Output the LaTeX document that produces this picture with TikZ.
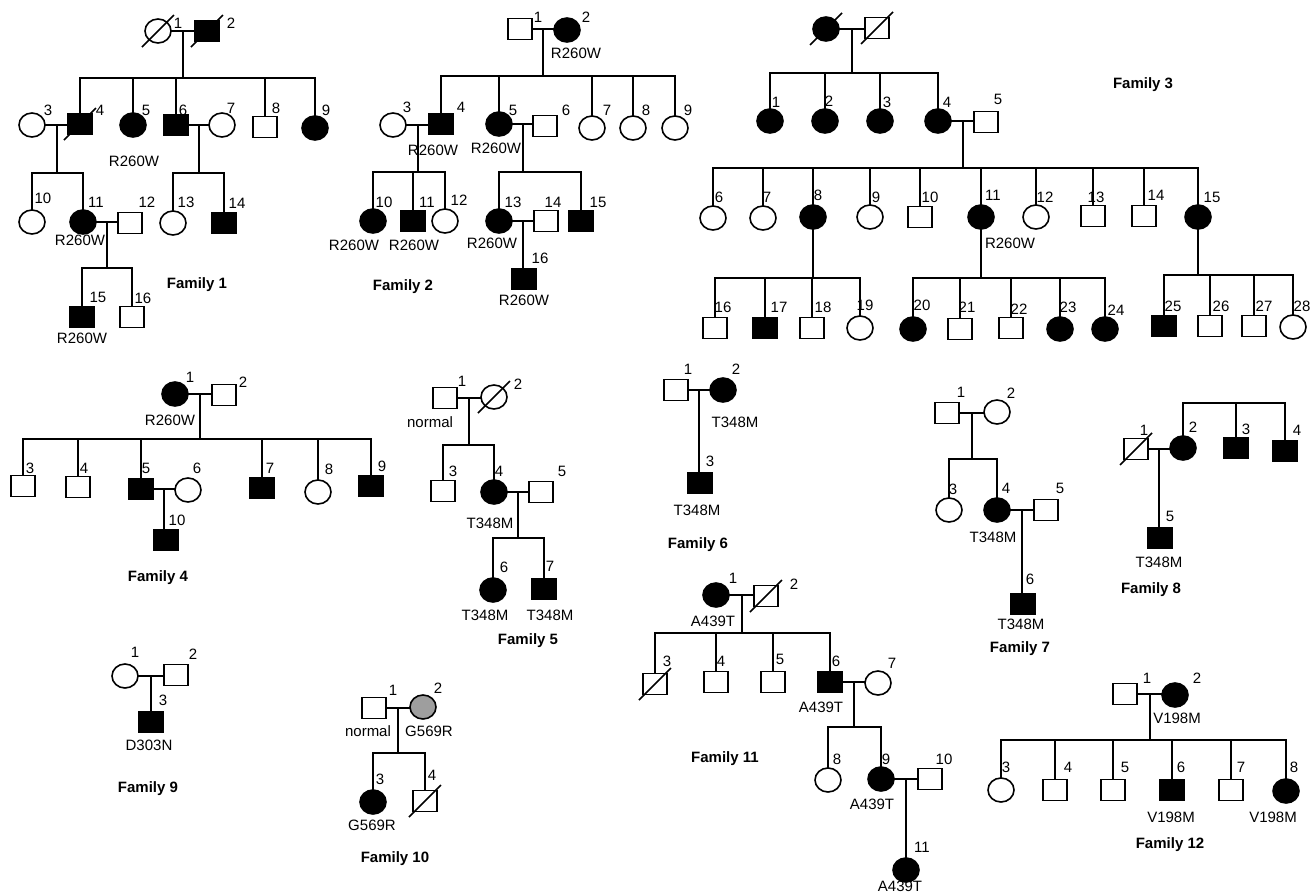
\documentclass[tikz,border=0pt]{standalone}
\usepackage{fontspec}
\setmainfont{Liberation Sans}
\usetikzlibrary{calc,shapes.geometric}
\tikzset{
 sq/.style={draw, line width=1.6pt, rectangle, minimum width=24pt, minimum height=21pt, inner sep=0pt, outer sep=0pt, fill=white},
 sqf/.style={sq, fill=black},
 ci/.style={draw, line width=1.6pt, ellipse, minimum width=26pt, minimum height=24pt, inner sep=0pt, outer sep=0pt, fill=white},
 cif/.style={ci, fill=black},
 cig/.style={ci, fill=black!38},
 txt/.style={font=\fontsize{15}{17}\selectfont, inner sep=0pt, text height=10.7pt, text depth=0pt},
 fam/.style={txt, font=\fontsize{15}{17}\selectfont\bfseries},
}
\newcommand\pers[5]{\node[#1] (#2) at (#3) {}; \node[txt] (#2n) at (#5) {#4};}
\newcommand\mar[3]{%
  \draw (#1.east) -- (#1.east -| #2.west);
  \path let \p1=($(#1.east)!.5!(#1.east -| #2.west)$), \n1={round(\x1)} in coordinate (#3) at (\n1,\y1);}
\newcommand\kids[3]{%
  \draw (#1) -- (#1 |- 0,#2);
  \foreach \c in {#3}{\draw (\c.north) -- (\c.north |- 0,#2) -- (#1 |- 0,#2);}}
\newcommand\onekid[2]{\draw (#1) -- (#1 |- #2.north);}
\newcommand\dec[1]{\draw ([shift={(-16,16)}]#1.center) -- ([shift={(16,-16)}]#1.center);}
\begin{document}
\begin{tikzpicture}[x=1pt,y=-1pt,line width=1.7pt]
\useasboundingbox (0,0) rectangle (1311,895);
% ---------------- Family 1
\pers{ci}{f1p1}{158,31}{1}{178,23}
\pers{sqf}{f1p2}{207,31}{2}{231,23}
\pers{ci}{f1p3}{32,125}{3}{48,110}
\pers{sqf}{f1p4}{80,124}{4}{100,110}
\pers{cif}{f1p5}{133,125}{5}{146,110}
\pers{sqf}{f1p6}{176,125}{6}{183,110}
\pers{ci}{f1p7}{222,125}{7}{231,108}
\pers{sq}{f1p8}{265,127}{8}{276,108}
\pers{cif}{f1p9}{315,128}{9}{326,110}
\pers{ci}{f1p10}{32,222}{10}{43,198}
\pers{cif}{f1p11}{83,222}{11}{96,202}
\pers{sq}{f1p12}{130,223}{12}{147,202}
\pers{ci}{f1p13}{173,223}{13}{186,202}
\pers{sqf}{f1p14}{224,223}{14}{237,203}
\pers{sqf}{f1p15}{82,317}{15}{98,297}
\pers{sq}{f1p16}{132,317}{16}{143,298}
\dec{f1p1}\dec{f1p2}\dec{f1p4}
\mar{f1p1}{f1p2}{f1m}
\kids{f1m}{78}{f1p4,f1p5,f1p6,f1p8,f1p9}
\mar{f1p3}{f1p4}{f1ma}
\kids{f1ma}{173}{f1p10,f1p11}
\mar{f1p6}{f1p7}{f1mb}
\kids{f1mb}{173}{f1p13,f1p14}
\mar{f1p11}{f1p12}{f1mc}
\kids{f1mc}{268}{f1p15,f1p16}
\node[txt] (f1t5) at (134,161) {R260W};
\node[txt] (f1t11) at (80,240) {R260W};
\node[txt] (f1t15) at (82,338) {R260W};
\node[fam] (fam1) at (197,283) {Family 1};
% ---------------- Family 2
\pers{sq}{f2p1}{520,29}{1}{538,17}
\pers{cif}{f2p2}{567,30}{2}{586,17}
\pers{ci}{f2p3}{393,125}{3}{407,107}
\pers{sqf}{f2p4}{441,124}{4}{461,107}
\pers{cif}{f2p5}{499,124}{5}{513,110}
\pers{sq}{f2p6}{545,126}{6}{566,110}
\pers{ci}{f2p7}{592,128}{7}{607,110}
\pers{ci}{f2p8}{633,128}{8}{646,110}
\pers{ci}{f2p9}{675,128}{9}{688,110}
\pers{cif}{f2p10}{373,221}{10}{384,202}
\pers{sqf}{f2p11}{413,221}{11}{427,202}
\pers{ci}{f2p12}{445,221}{12}{459,200}
\pers{cif}{f2p13}{499,221}{13}{513,202}
\pers{sq}{f2p14}{546,221}{14}{553,202}
\pers{sqf}{f2p15}{581,221}{15}{598,202}
\pers{sqf}{f2p16}{524,279}{16}{540,258}
\mar{f2p1}{f2p2}{f2m}
\kids{f2m}{76}{f2p4,f2p5,f2p7,f2p8,f2p9}
\mar{f2p3}{f2p4}{f2ma}
\kids{f2ma}{172}{f2p10,f2p11,f2p12}
\mar{f2p5}{f2p6}{f2mb}
\kids{f2mb}{172}{f2p13,f2p15}
\mar{f2p13}{f2p14}{f2mc}
\onekid{f2mc}{f2p16}
\node[txt] (f2t2) at (576,53) {R260W};
\node[txt] (f2t4) at (433,150) {R260W};
\node[txt] (f2t5) at (496,148) {R260W};
\node[txt] (f2t10) at (354,245) {R260W};
\node[txt] (f2t11) at (414,245) {R260W};
\node[txt] (f2t13) at (492,243) {R260W};
\node[txt] (f2t16) at (524,300) {R260W};
\node[fam] (fam2) at (403,285) {Family 2};
% ---------------- Family 3
\node[cif] (f3a) at (826,29) {};
\node[sq] (f3b) at (877,28) {};
\dec{f3a}\dec{f3b}
\pers{cif}{f3p1}{770,121}{1}{776,102}
\pers{cif}{f3p2}{825,121}{2}{829,101}
\pers{cif}{f3p3}{880,121}{3}{887,102}
\pers{cif}{f3p4}{938,121}{4}{947,102}
\pers{sq}{f3p5}{986,122}{5}{998,99}
\pers{ci}{f3p6}{713,218}{6}{719,197}
\pers{ci}{f3p7}{763,218}{7}{767,197}
\pers{cif}{f3p8}{813,217}{8}{818,195}
\pers{ci}{f3p9}{870,217}{9}{876,197}
\pers{sq}{f3p10}{920,217}{10}{930,197}
\pers{cif}{f3p11}{981,217}{11}{993,195}
\pers{ci}{f3p12}{1036,217}{12}{1045,197}
\pers{sq}{f3p13}{1093,216}{13}{1096,197}
\pers{sq}{f3p14}{1144,216}{14}{1156,195}
\pers{cif}{f3p15}{1198,217}{15}{1212,197}
\pers{sq}{f3p16}{715,328}{16}{723,307}
\pers{sqf}{f3p17}{765,328}{17}{779,307}
\pers{sq}{f3p18}{812,328}{18}{823,307}
\pers{ci}{f3p19}{860,328}{19}{865,305}
\pers{cif}{f3p20}{913,329}{20}{922,305}
\pers{sq}{f3p21}{960,329}{21}{967,307}
\pers{sq}{f3p22}{1011,328}{22}{1019,309}
\pers{cif}{f3p23}{1060,329}{23}{1068,307}
\pers{cif}{f3p24}{1105,329}{24}{1116,310}
\pers{sqf}{f3p25}{1164,326}{25}{1173,306}
\pers{sq}{f3p26}{1210,326}{26}{1221,306}
\pers{sq}{f3p27}{1254,326}{27}{1264,306}
\pers{ci}{f3p28}{1293,327}{28}{1302,306}
\mar{f3a}{f3b}{f3m}
\kids{f3m}{73}{f3p1,f3p2,f3p3,f3p4}
\mar{f3p4}{f3p5}{f3ma}
\kids{f3ma}{168}{f3p6,f3p7,f3p8,f3p9,f3p10,f3p11,f3p12,f3p13,f3p14,f3p15}
\kids{f3p8.south}{278}{f3p16,f3p17,f3p18,f3p19}
\kids{f3p11.south}{278}{f3p20,f3p21,f3p22,f3p23,f3p24}
\kids{f3p15.south}{275}{f3p25,f3p26,f3p27,f3p28}
\node[txt] (f3t11) at (1010,243) {R260W};
\node[fam] (fam3) at (1143,83) {Family 3};
% ---------------- Family 4
\pers{cif}{f4p1}{175,394}{1}{190,377}
\pers{sq}{f4p2}{224,395}{2}{243,382}
\pers{sq}{f4p3}{23,486}{3}{30,468}
\pers{sq}{f4p4}{78,487}{4}{84,468}
\pers{sqf}{f4p5}{141,489}{5}{146,468}
\pers{ci}{f4p6}{188,490}{6}{197,468}
\pers{sqf}{f4p7}{262,488}{7}{270,468}
\pers{ci}{f4p8}{318,492}{8}{329,469}
\pers{sqf}{f4p9}{371,486}{9}{382,466}
\pers{sqf}{f4p10}{166,540}{10}{177,520}
\mar{f4p1}{f4p2}{f4m}
\kids{f4m}{439}{f4p3,f4p4,f4p5,f4p7,f4p8,f4p9}
\mar{f4p5}{f4p6}{f4ma}
\onekid{f4ma}{f4p10}
\node[txt] (f4t1) at (170,420) {R260W};
\node[fam] (fam4) at (158,576) {Family 4};
% ---------------- Family 5
\pers{sq}{f5p1}{445,398}{1}{462,381}
\pers{ci}{f5p2}{494,397}{2}{518,384}
\pers{sq}{f5p3}{443,491}{3}{453,471}
\pers{cif}{f5p4}{494,492}{4}{499,471}
\pers{sq}{f5p5}{541,492}{5}{562,471}
\pers{cif}{f5p6}{493,590}{6}{504,567}
\pers{sqf}{f5p7}{544,589}{7}{550,566}
\dec{f5p2}
\mar{f5p1}{f5p2}{f5m}
\kids{f5m}{445}{f5p3,f5p4}
\mar{f5p4}{f5p5}{f5ma}
\kids{f5ma}{538}{f5p6,f5p7}
\node[txt] (f5t1) at (430,422) {normal};
\node[txt] (f5t4) at (490,523) {T348M};
\node[txt] (f5t6) at (485,615) {T348M};
\node[txt] (f5t7) at (550,615) {T348M};
\node[fam] (fam5) at (528,639) {Family 5};
% ---------------- Family 6
\pers{sq}{f6p1}{676,390}{1}{688,369}
\pers{cif}{f6p2}{723,390}{2}{736,369}
\pers{sqf}{f6p3}{700,483}{3}{710,461}
\mar{f6p1}{f6p2}{f6m}
\onekid{f6m}{f6p3}
\node[txt] (f6t2) at (735,422) {T348M};
\node[txt] (f6t3) at (697,510) {T348M};
\node[fam] (fam6) at (698,543) {Family 6};
% ---------------- Family 7
\pers{sq}{f7p1}{947,413}{1}{961,392}
\pers{ci}{f7p2}{997,412}{2}{1011,393}
\pers{ci}{f7p3}{949,510}{3}{953,489}
\pers{cif}{f7p4}{997,510}{4}{1006,488}
\pers{sq}{f7p5}{1046,510}{5}{1060,488}
\pers{sqf}{f7p6}{1023,604}{6}{1030,579}
\mar{f7p1}{f7p2}{f7m}
\kids{f7m}{459}{f7p3,f7p4}
\mar{f7p4}{f7p5}{f7ma}
\onekid{f7ma}{f7p6}
\node[txt] (f7t4) at (993,537) {T348M};
\node[txt] (f7t6) at (1021,624) {T348M};
\node[fam] (fam7) at (1020,647) {Family 7};
% ---------------- Family 8
\pers{sq}{f8p1}{1136,449}{1}{1144,430}
\pers{cif}{f8p2}{1183,448}{2}{1193,427}
\pers{sqf}{f8p3}{1236,448}{3}{1246,429}
\pers{sqf}{f8p4}{1285,451}{4}{1297,430}
\pers{sqf}{f8p5}{1160,538}{5}{1170,516}
\dec{f8p1}
\draw (f8p2.north) -- (f8p2.north |- 0,403) -- (f8p4.north |- 0,403) -- (f8p4.north);
\draw (f8p3.north) -- (f8p3.north |- 0,403);
\mar{f8p1}{f8p2}{f8m}
\onekid{f8m}{f8p5}
\node[txt] (f8t5) at (1159,562) {T348M};
\node[fam] (fam8) at (1151,588) {Family 8};
% ---------------- Family 9
\pers{ci}{f9p1}{125,676}{1}{135,652}
\pers{sq}{f9p2}{176,675}{2}{193,654}
\pers{sqf}{f9p3}{151,722}{3}{163,700}
\mar{f9p1}{f9p2}{f9m}
\onekid{f9m}{f9p3}
\node[txt] (f9t3) at (149,745) {D303N};
\node[fam] (fam9) at (148,787) {Family 9};
% ---------------- Family 10
\pers{sq}{f10p1}{374,708}{1}{393,690}
\pers{cig}{f10p2}{423,707}{2}{438,688}
\pers{cif}{f10p3}{373,802}{3}{380,779}
\pers{sq}{f10p4}{425,801}{4}{432,775}
\dec{f10p4}
\mar{f10p1}{f10p2}{f10m}
\kids{f10m}{753}{f10p3,f10p4}
\node[txt] (f10t1) at (368,731) {normal};
\node[txt] (f10t2) at (429,731) {G569R};
\node[txt] (f10t3) at (372,825) {G569R};
\node[fam] (fam10) at (395,857) {Family 10};
% ---------------- Family 11
\pers{cif}{f11p1}{716,595}{1}{733,578}
\pers{sq}{f11p2}{766,596}{2}{794,584}
\pers{sq}{f11p3}{655,684}{3}{667,661}
\pers{sq}{f11p4}{716,682}{4}{721,661}
\pers{sq}{f11p5}{773,682}{5}{780,659}
\pers{sqf}{f11p6}{830,682}{6}{836,661}
\pers{ci}{f11p7}{878,683}{7}{892,663}
\pers{ci}{f11p8}{828,780}{8}{837,759}
\pers{cif}{f11p9}{881,779}{9}{886,759}
\pers{sq}{f11p10}{930,779}{10}{944,759}
\pers{cif}{f11p11}{906,870}{11}{922,847}
\dec{f11p2}\dec{f11p3}
\mar{f11p1}{f11p2}{f11m}
\kids{f11m}{633}{f11p3,f11p4,f11p5,f11p6}
\mar{f11p6}{f11p7}{f11ma}
\kids{f11ma}{727}{f11p8,f11p9}
\mar{f11p9}{f11p10}{f11mb}
\onekid{f11mb}{f11p11}
\node[txt] (f11t1) at (713,621) {A439T};
\node[txt] (f11t6) at (821,707) {A439T};
\node[txt] (f11t9) at (872,804) {A439T};
\node[txt] (f11t11) at (900,886) {A439T};
\node[fam] (fam11) at (725,757) {Family 11};
% ---------------- Family 12
\pers{sq}{f12p1}{1125,694}{1}{1147,678}
\pers{cif}{f12p2}{1175,695}{2}{1197,678}
\pers{ci}{f12p3}{1001,790}{3}{1006,767}
\pers{sq}{f12p4}{1055,790}{4}{1068,767}
\pers{sq}{f12p5}{1113,790}{5}{1125,767}
\pers{sqf}{f12p6}{1172,790}{6}{1181,767}
\pers{sq}{f12p7}{1231,790}{7}{1241,767}
\pers{cif}{f12p8}{1286,791}{8}{1294,767}
\mar{f12p1}{f12p2}{f12m}
\kids{f12m}{740}{f12p3,f12p4,f12p5,f12p6,f12p7,f12p8}
\node[txt] (f12t2) at (1177,718) {V198M};
\node[txt] (f12t6) at (1171,817) {V198M};
\node[txt] (f12t8) at (1273,817) {V198M};
\node[fam] (fam12) at (1170,843) {Family 12};
\end{tikzpicture}
\end{document}
